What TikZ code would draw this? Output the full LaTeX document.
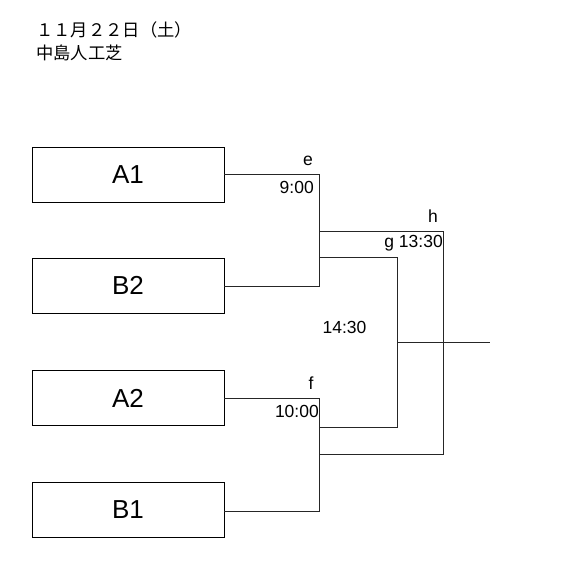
\documentclass[tikz,border=0pt]{standalone}
\usepackage{fontspec}
\setmainfont{Liberation Sans}
\newfontfamily\jpfont{Noto Sans CJK JP}
\begin{document}
\begin{tikzpicture}[x=1pt,y=-1pt,
  team/.style={draw,line width=0.9pt,minimum width=192pt,minimum height=55pt,inner sep=0pt,font=\fontsize{26}{26}\selectfont},
  lbl/.style={inner sep=0pt,font=\fontsize{17.5}{17.5}\selectfont},
  bline/.style={line width=0.9pt,draw=black!85}]
\useasboundingbox (0,0) rectangle (583,588);
\node[anchor=west,inner sep=0pt,font=\jpfont\fontsize{17.3}{17.3}\selectfont] (t1) at (36,30) {１１月２２日（土）};
\node[anchor=west,inner sep=0pt,font=\jpfont\fontsize{17.3}{17.3}\selectfont] (t2) at (36,53) {中島人工芝};
\node[team] (A1) at (128,174.5) {A1};
\node[team] (B2) at (128,285.5) {B2};
\node[team] (A2) at (128,398) {A2};
\node[team] (B1) at (128,510) {B1};
% junctions
\coordinate (e1) at (319,174);
\coordinate (e2) at (319,286);
\coordinate (eh) at (319,231);
\coordinate (eg) at (319,257);
\coordinate (f1) at (319,398);
\coordinate (f2) at (319,511);
\coordinate (fg) at (319,427);
\coordinate (fh) at (319,454);
\coordinate (g1) at (397,257);
\coordinate (g2) at (397,427);
\coordinate (gm) at (397,342);
\coordinate (h1) at (443,231);
\coordinate (h2) at (443,454);
\coordinate (out) at (490,342);
\draw[bline] (A1.east |- e1) -- (e1) -- (e2) -- (B2.east |- e2);
\draw[bline] (A2.east |- f1) -- (f1) -- (f2) -- (B1.east |- f2);
\draw[bline] (eg) -- (g1) -- (g2) -- (fg);
\draw[bline] (eh) -- (h1) -- (h2) -- (fh);
\draw[bline] (gm) -- (out);
% labels
\node[lbl] (le) at (308,161) {e};
\node[lbl,anchor=east] (l900) at (314,187) {9:00};
\node[lbl] (lh) at (433,216) {h};
\node[lbl,anchor=east] (lg) at (443,243) {g 13:30};
\node[lbl] (l1430) at (344.5,327) {14:30};
\node[lbl] (lf) at (311,383) {f};
\node[lbl,anchor=east] (l1000) at (319,411) {10:00};
\end{tikzpicture}
\end{document}
